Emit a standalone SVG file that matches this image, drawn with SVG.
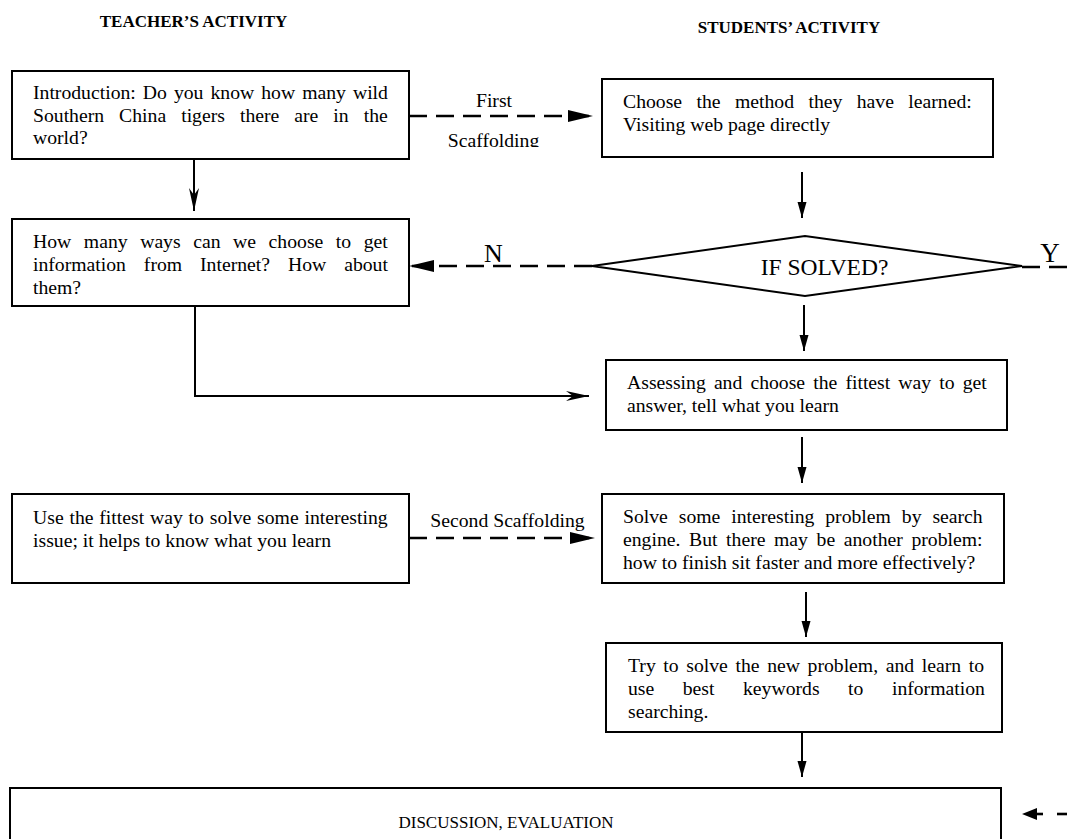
<svg xmlns="http://www.w3.org/2000/svg" width="1075" height="839" viewBox="0 0 1075 839">
<style>
  .box { fill: #fff; stroke: #000; stroke-width: 2; }
  .t { font-family: "Liberation Serif", "Times New Roman", serif; font-size: 19.7px; fill: #000; }
  .h { font-family: "Liberation Serif", "Times New Roman", serif; font-size: 17px; font-weight: bold; fill: #000; }
  .lbl { font-family: "Liberation Serif", "Times New Roman", serif; fill: #000; }
  .ln { fill: none; stroke: #000; stroke-width: 2; }
  .dash { fill: none; stroke: #000; stroke-width: 2.6; stroke-dasharray: 18 9; }
</style>
<defs>
  <marker id="tri" markerUnits="userSpaceOnUse" markerWidth="17" markerHeight="10" refX="16" refY="4.5" orient="auto">
    <path d="M0,0 L16,4.5 L0,9 z" fill="#000"/>
  </marker>
  <marker id="triL" markerUnits="userSpaceOnUse" markerWidth="26" markerHeight="13" refX="25" refY="6" orient="auto">
    <path d="M0,0 L25,6 L0,12 z" fill="#000"/>
  </marker>
  <marker id="barb" markerUnits="userSpaceOnUse" markerWidth="24" markerHeight="11" refX="23" refY="5" orient="auto">
    <path d="M0,0 L23,5 L0,10 L7,5 z" fill="#000"/>
  </marker>
  <clipPath id="clipScaf"><rect x="400" y="120" width="200" height="27"/></clipPath>
</defs>

<g id="headers">
  <text class="h" x="193.5" y="27" text-anchor="middle">TEACHER’S ACTIVITY</text>
  <text class="h" x="789" y="33" text-anchor="middle">STUDENTS’ ACTIVITY</text>
</g>

<g id="connectors">
  <line class="ln" x1="194" y1="159" x2="194" y2="211" marker-end="url(#barb)"/>
  <line class="ln" x1="106" y1="306" x2="195" y2="306" stroke-width="3.2"/>
  <polyline class="ln" points="195,306 195,396 589,396" marker-end="url(#barb)"/>
  <line class="dash" x1="409" y1="116" x2="593" y2="116" marker-end="url(#triL)"/>
  <line class="ln" x1="802" y1="172" x2="802" y2="218" marker-end="url(#tri)"/>
  <line class="dash" x1="592" y1="266" x2="409" y2="266" marker-end="url(#triL)"/>
  <line class="dash" x1="1022" y1="267" x2="1075" y2="267"/>
  <line class="ln" x1="804" y1="305" x2="804" y2="351" marker-end="url(#tri)"/>
  <line class="ln" x1="802" y1="437" x2="802" y2="483" marker-end="url(#tri)"/>
  <line class="dash" x1="409" y1="538" x2="595" y2="538" marker-end="url(#triL)"/>
  <line class="ln" x1="806" y1="592" x2="806" y2="637" marker-end="url(#tri)"/>
  <line class="ln" x1="802" y1="732" x2="802" y2="777" marker-end="url(#tri)"/>
  <g id="incoming-right">
    <polygon points="1022,814 1037,808 1037,820" fill="#000"/>
    <line x1="1036" y1="814" x2="1043" y2="814" stroke="#000" stroke-width="2.6"/>
    <line x1="1057" y1="814" x2="1067" y2="814" stroke="#000" stroke-width="2.6"/>
  </g>
  <g id="connector-labels">
    <text class="t" x="494" y="107" text-anchor="middle">First</text>
    <text class="t" x="493.5" y="147" text-anchor="middle" clip-path="url(#clipScaf)">Scaffolding</text>
    <text class="lbl" x="493.5" y="262" font-size="26" text-anchor="middle">N</text>
    <text class="lbl" x="1050" y="262" font-size="27" text-anchor="middle">Y</text>
    <text class="t" x="507.5" y="527" text-anchor="middle">Second Scaffolding</text>
  </g>
</g>

<g id="node-intro">
  <rect class="box" x="12" y="71" width="397" height="88"/>
  <text class="t" x="33" y="99" word-spacing="2.1">Introduction: Do you know how many wild</text>
  <text class="t" x="33" y="121.5" word-spacing="10.1">Southern China tigers there are in the</text>
  <text class="t" x="33" y="144">world?</text>
</g>

<g id="node-ways">
  <rect class="box" x="12" y="219" width="397" height="87"/>
  <text class="t" x="33" y="248" word-spacing="7.65">How many ways can we choose to get</text>
  <text class="t" x="33" y="271" word-spacing="13">information from Internet? How about</text>
  <text class="t" x="33" y="294">them?</text>
</g>

<g id="node-choose">
  <rect class="box" x="602" y="79" width="391" height="78"/>
  <text class="t" x="623" y="108" word-spacing="9.5">Choose the method they have learned:</text>
  <text class="t" x="623" y="131">Visiting web page directly</text>
</g>

<g id="node-solved">
  <polygon points="592,266 805,236 1022,266 805,296" fill="#fff" stroke="#000" stroke-width="2"/>
  <text class="lbl" x="824.5" y="275" font-size="23.5" text-anchor="middle">IF SOLVED?</text>
</g>

<g id="node-assess">
  <rect class="box" x="606" y="360" width="401" height="70"/>
  <text class="t" x="627" y="389" word-spacing="3.2">Assessing and choose the fittest way to get</text>
  <text class="t" x="627" y="412">answer, tell what you learn</text>
</g>

<g id="node-use">
  <rect class="box" x="12" y="494" width="397" height="89"/>
  <text class="t" x="33" y="524" word-spacing="0.9">Use the fittest way to solve some interesting</text>
  <text class="t" x="33" y="547">issue; it helps to know what you learn</text>
</g>

<g id="node-solve">
  <rect class="box" x="602" y="494" width="402" height="89"/>
  <text class="t" x="623" y="523" word-spacing="6">Solve some interesting problem by search</text>
  <text class="t" x="623" y="546" word-spacing="3.7">engine. But there may be another problem:</text>
  <text class="t" x="623" y="569">how to finish sit faster and more effectively?</text>
</g>

<g id="node-try">
  <rect class="box" x="606" y="643" width="396" height="89"/>
  <text class="t" x="628" y="672" word-spacing="2.7">Try to solve the new problem, and learn to</text>
  <text class="t" x="628" y="695" word-spacing="23.6">use best keywords to information</text>
  <text class="t" x="628" y="718">searching.</text>
</g>

<g id="node-discussion">
  <rect class="box" x="10" y="788" width="991" height="70"/>
  <text class="lbl" x="506" y="828" font-size="17" text-anchor="middle">DISCUSSION, EVALUATION</text>
</g>
</svg>
